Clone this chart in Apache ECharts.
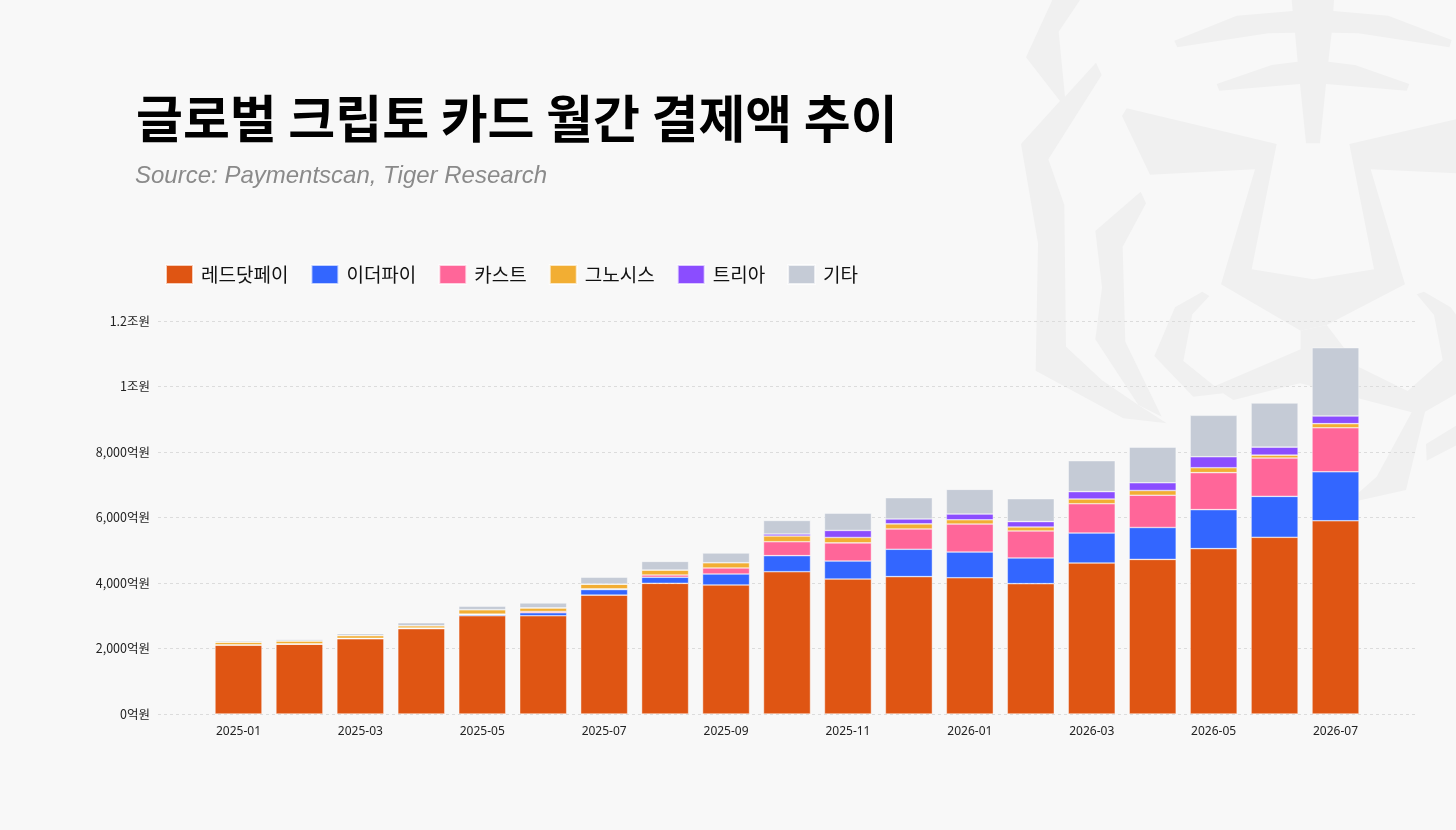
<!DOCTYPE html>
<html>
<head>
<meta charset="utf-8">
<script src="https://cdn.jsdelivr.net/npm/echarts@6/dist/echarts.min.js"></script>
<style>
html, body { margin: 0; padding: 0; background: #f8f8f8; }
#main { width: 1456px; height: 830px; }
</style>
</head>
<body>
<div id="main"></div>
<script>
// 월별 카테고리
var months = ['2025-01','2025-02','2025-03','2025-04','2025-05','2025-06','2025-07','2025-08','2025-09','2025-10',
	'2025-11','2025-12','2026-01','2026-02','2026-03','2026-04','2026-05','2026-06','2026-07'];
// 단위: 억원
var reddotpay = [2105, 2135, 2300, 2605, 3000, 3000, 3630, 3990, 3940, 4345, 4120, 4195, 4160, 3980, 4610, 4720, 5050, 5395, 5900];
var etherfi   = [0, 0, 0, 10, 35, 90, 170, 185, 335, 490, 550, 835, 785, 785, 915, 975, 1190, 1250, 1495];
var cast      = [10, 5, 10, 10, 15, 40, 20, 70, 185, 425, 555, 620, 855, 825, 895, 985, 1130, 1170, 1345];
var gnosis    = [80, 90, 85, 70, 135, 110, 145, 150, 160, 175, 165, 155, 130, 120, 145, 145, 150, 90, 125];
var trea      = [0, 0, 0, 0, 0, 0, 0, 0, 0, 60, 215, 150, 175, 165, 225, 235, 335, 245, 235];
var others    = [40, 50, 60, 90, 110, 150, 215, 265, 295, 415, 530, 650, 755, 700, 945, 1090, 1265, 1345, 2085];

var seriesNames = ['레드닷페이', '이더파이', '카스트', '그노시스', '트리아', '기타'];
var yTickValues = [0, 2000, 4000, 6000, 8000, 10000, 12000];
var yTickLabels = ['0억원', '2,000억원', '4,000억원', '6,000억원', '8,000억원', '1조원', '1.2조원'];

var colors = ['#df5513', '#3366ff', '#ff6699', '#f2ae33', '#8b4dff', '#c5cbd6'];
var seriesData = [reddotpay, etherfi, cast, gnosis, trea, others];

// 배경 호랑이 워터마크 (zoom 좌표 / 3 + 오프셋)
function wm(pts) {
	return pts.map(function(p) { return [980 + p[0] / 3, p[1] / 3]; });
}
var wmShapes = [
	[[217,0],[300,0],[236,95],[255,290],[348,188],[365,225],[205,478],[253,615],[258,1040],[365,1140],[475,1215],[560,1270],[430,1255],[167,1112],[174,730],[123,432],[240,303],[138,172]],
	[[482,575],[498,610],[428,740],[436,1025],[545,1250],[475,1215],[346,1018],[366,862],[346,693]],
	[[583,122],[770,47],[938,33],[935,0],[1062,0],[1060,33],[1225,47],[1415,120],[1408,142],[1135,100],[1055,98],[1045,185],[1125,195],[1288,252],[1280,272],[1038,252],[1020,430],[978,430],[960,252],[718,272],[710,252],[875,195],[953,185],[945,98],[865,100],[592,142]],
	[[440,325],[890,432],[815,808],[1000,838],[1182,808],[1108,432],[1440,355],[1440,520],[1172,508],[1275,853],[1040,975],[962,992],[723,853],[825,508],[510,524],[426,348]],
	[[962,992],[1040,975],[1135,1100],[1135,1195],[960,1150],[760,1200],[700,1160],[962,1048]],
	[[585,922],[667,875],[688,888],[637,943],[610,1083],[730,1180],[640,1190],[523,1068]],
	[[1310,883],[1332,875],[1412,922],[1440,960],[1440,1175],[1335,1235],[1278,1470],[1100,1510],[1190,1430],[1295,1237],[1135,1195],[1135,1100],[1283,1173],[1388,1080],[1362,945]],
	[[1440,1270],[1338,1332],[1340,1382],[1440,1330]]
];
var graphics = wmShapes.map(function(s) {
	return {
		type: 'polygon',
		z: -10,
		silent: true,
		shape: { points: wm(s) },
		style: { fill: '#f0f0f0' }
	};
});

var series = seriesNames.map(function(name, i) {
	return {
		name: name,
		type: 'bar',
		stack: 'total',
		xAxisIndex: 1,
		yAxisIndex: 1,
		barWidth: 47,
		itemStyle: { color: colors[i], borderColor: 'rgba(255,255,255,0.7)', borderWidth: 0.6 },
		data: seriesData[i]
	};
});

var myChart = echarts.init(document.getElementById('main'));
var option = {
	backgroundColor: '#f8f8f8',
	graphic: graphics,
	title: [
		{
			text: '글로벌 크립토 카드 월간 결제액 추이',
			left: 131, top: 88,
			textStyle: { fontFamily: 'Noto Sans CJK KR', fontWeight: 'bold', fontSize: 51, color: '#000' }
		},
		{
			text: 'Source: Paymentscan, Tiger Research',
			left: 130, top: 159,
			textStyle: { fontFamily: 'Liberation Sans', fontStyle: 'italic', fontWeight: 'normal', fontSize: 24, color: '#8a8a8a' }
		}
	],
	legend: {
		data: seriesNames,
		left: 160, top: 259,
		itemWidth: 27, itemHeight: 19, itemGap: 22,
		icon: 'rect',
		textStyle: { fontFamily: 'Noto Sans CJK KR', fontSize: 19, color: '#111', padding: [0, 0, 0, 3] }
	},
	grid: [
		{ left: 158, right: 41, top: 321, bottom: 116 },
		{ left: 208, right: 90, top: 321, bottom: 116 }
	],
	xAxis: [
		{ type: 'category', gridIndex: 0, data: months, show: false },
		{
			type: 'category', gridIndex: 1, data: months,
			axisLine: { show: false }, axisTick: { show: false },
			axisLabel: { interval: 1, margin: 12, fontFamily: 'Noto Sans', fontSize: 12, color: '#222' }
		}
	],
	yAxis: [
		{
			type: 'value', gridIndex: 0, min: 0, max: 12000, interval: 2000,
			axisLine: { show: false }, axisTick: { show: false },
			axisLabel: {
				margin: 8, fontFamily: 'Noto Sans CJK KR', fontSize: 12.5, color: '#222',
				formatter: function(v) { return yTickLabels[yTickValues.indexOf(v)]; }
			},
			splitLine: { lineStyle: { color: '#dcdcdc', type: [3, 3], width: 1 } }
		},
		{
			type: 'value', gridIndex: 1, min: 0, max: 12000, interval: 2000,
			show: false, splitLine: { show: false }
		}
	],
	series: series
};
myChart.setOption(option);
</script>
</body>
</html>
